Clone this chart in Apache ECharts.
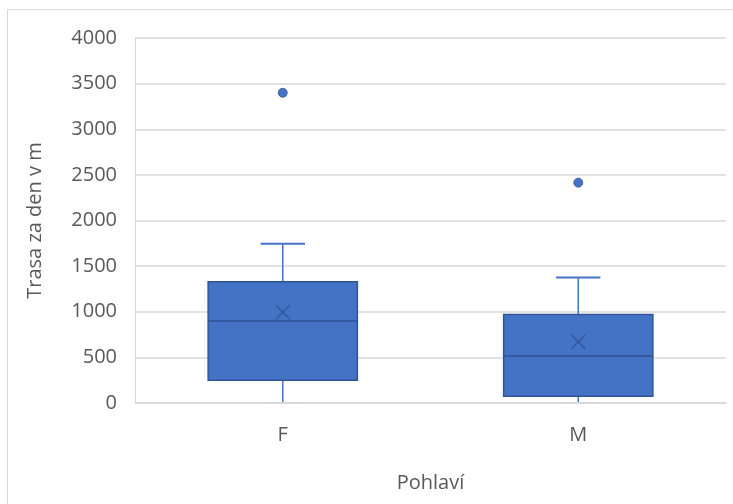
<!DOCTYPE html>
<html><head><meta charset="utf-8">
<script src="https://cdn.jsdelivr.net/npm/echarts@6/dist/echarts.min.js"></script>
<style>html,body{margin:0;padding:0;background:#fff}#c{width:733px;height:504px}</style>
</head><body><div id="c"></div>
<script>
const categories = ['F', 'M'];
const whiskerMin = [0, 0];
const q1 = [250, 75];
const median = [900, 515];
const q3 = [1330, 970];
const whiskerMax = [1745, 1375];
const mean = [995, 670];
const outlierCat = ['F', 'M'];
const outlierVal = [3400, 2415];
const yTicks = [0, 500, 1000, 1500, 2000, 2500, 3000, 3500, 4000];

const FONT = '"Open Sans", "Liberation Sans", sans-serif';
const BLUE = '#4472C4';
const DARK = '#2F5597';

const boxData = categories.map((c, i) => [i, whiskerMin[i], q1[i], median[i], q3[i], whiskerMax[i], mean[i]]);
const outData = outlierCat.map((c, i) => [categories.indexOf(c), outlierVal[i]]);

function renderBox(params, api) {
  const i = api.value(0);
  const band = api.size([1, 0])[0];
  const bw = band * 0.505;
  const cw = band * 0.15;
  const pMin = api.coord([i, api.value(1)]);
  const pQ1 = api.coord([i, api.value(2)]);
  const pMed = api.coord([i, api.value(3)]);
  const pQ3 = api.coord([i, api.value(4)]);
  const pMax = api.coord([i, api.value(5)]);
  const pMean = api.coord([i, api.value(6)]);
  const x = pQ1[0];
  const m = 7;
  const lineStyle = {stroke: BLUE, lineWidth: 1.5};
  return {
    type: 'group',
    children: [
      {type: 'line', shape: {x1: x, y1: pMax[1], x2: x, y2: pQ3[1]}, style: lineStyle},
      {type: 'line', shape: {x1: x, y1: pQ1[1], x2: x, y2: pMin[1]}, style: lineStyle},
      {type: 'line', shape: {x1: x - cw / 2, y1: pMax[1], x2: x + cw / 2, y2: pMax[1]}, style: {stroke: BLUE, lineWidth: 2}},
      {type: 'line', shape: {x1: x - cw / 2, y1: pMin[1], x2: x + cw / 2, y2: pMin[1]}, style: {stroke: '#d4dbe8', lineWidth: 2}},
      {type: 'rect', shape: {x: x - bw / 2, y: pQ3[1], width: bw, height: pQ1[1] - pQ3[1]},
        style: {fill: BLUE, stroke: DARK, lineWidth: 1.5}},
      {type: 'line', shape: {x1: x - bw / 2, y1: pMed[1], x2: x + bw / 2, y2: pMed[1]}, style: {stroke: DARK, lineWidth: 1.5}},
      {type: 'line', shape: {x1: x - m, y1: pMean[1] - m, x2: x + m, y2: pMean[1] + m}, style: {stroke: DARK, lineWidth: 1.5, opacity: 0.85}},
      {type: 'line', shape: {x1: x - m, y1: pMean[1] + m, x2: x + m, y2: pMean[1] - m}, style: {stroke: DARK, lineWidth: 1.5, opacity: 0.85}}
    ]
  };
}

const chart = echarts.init(document.getElementById('c'), null, {renderer: 'canvas'});
chart.setOption({
  animation: false,
  backgroundColor: '#fff',
  graphic: [{type: 'rect', shape: {x: 7.5, y: 9.5, width: 900, height: 700}, style: {fill: 'none', stroke: '#d9d9d9', lineWidth: 1}, silent: true, z: -10}],
  grid: {left: 135, right: 7, top: 38, bottom: 101},
  xAxis: {
    type: 'category', data: categories, z: 10,
    name: 'Pohlaví', nameLocation: 'middle', nameGap: 70,
    nameTextStyle: {fontFamily: FONT, fontSize: 20, color: '#595959'},
    axisLine: {show: true, lineStyle: {color: '#d9d9d9', width: 1.5}},
    axisTick: {show: false},
    axisLabel: {fontFamily: FONT, fontSize: 20, color: '#595959', margin: 22}
  },
  yAxis: {
    type: 'value', min: yTicks[0], max: yTicks[yTicks.length - 1], interval: 500,
    name: 'Trasa za den v m', nameLocation: 'middle', nameGap: 90, nameRotate: 90,
    nameTextStyle: {fontFamily: FONT, fontSize: 20, color: '#595959'},
    axisLine: {show: true, lineStyle: {color: '#d9d9d9', width: 1}},
    axisTick: {show: false},
    splitLine: {lineStyle: {color: '#d9d9d9', width: 1.5}},
    axisLabel: {fontFamily: FONT, fontSize: 20, color: '#595959', margin: 18, formatter: v => String(v)}
  },
  series: [
    {type: 'custom', data: boxData, renderItem: renderBox, encode: {x: 0, y: [1, 2, 3, 4, 5, 6]}, z: 2},
    {type: 'scatter', data: outData, symbol: 'circle', symbolSize: 9,
      itemStyle: {color: BLUE, borderColor: DARK, borderWidth: 0.8, opacity: 1}, z: 3}
  ]
});
</script></body></html>
